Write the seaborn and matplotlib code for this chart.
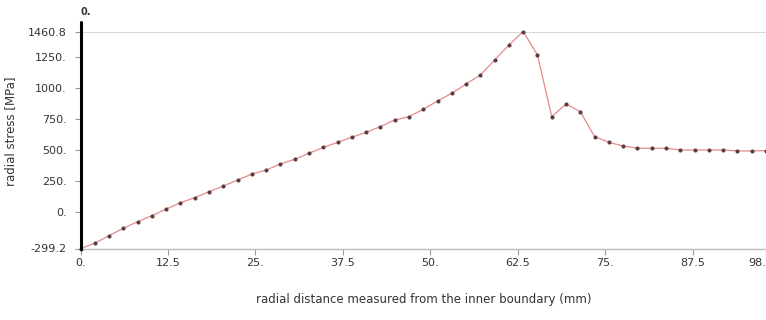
import numpy as np
import pandas as pd
import matplotlib
matplotlib.use("Agg")
import matplotlib.pyplot as plt
import seaborn as sns

# radial positions (mm) and radial stress (MPa)
distance = [0.0, 2.04, 4.08, 6.12, 8.17, 10.21, 12.25, 14.29, 16.33, 18.37,
            20.42, 22.46, 24.5, 26.54, 28.58, 30.62, 32.67, 34.71, 36.75, 38.79,
            40.83, 42.87, 44.92, 46.96, 49.0, 51.04, 53.08, 55.12, 57.17, 59.21,
            61.25, 63.29, 65.33, 67.37, 69.42, 71.46, 73.5, 75.54, 77.58, 79.62,
            81.67, 83.71, 85.75, 87.79, 89.83, 91.87, 93.92, 95.96, 98.0]
stress = [-299.2, -257, -195, -135, -82, -33, 21, 72, 113, 161,
          208, 256, 305, 337, 386, 424, 473, 521, 562, 603,
          643, 689, 743, 770, 830, 897, 960, 1035, 1108, 1230,
          1351, 1460.8, 1270, 770, 873, 810, 608, 562, 532, 514,
          514, 514, 500, 500, 500, 500, 492, 492, 495]

xticks = [0, 12.5, 25, 37.5, 50, 62.5, 75, 87.5, 98]
xticklabels = ["0.", "12.5", "25.", "37.5", "50.", "62.5", "75.", "87.5", "98."]
yticks = [-299.2, 0, 250, 500, 750, 1000, 1250, 1460.8]
yticklabels = ["-299.2", "0.", "250.", "500.", "750.", "1000.", "1250.", "1460.8"]

df = pd.DataFrame({"distance": distance, "stress": stress})

sns.set_style("white")
plt.rcParams["font.family"] = ["DejaVu Sans"]

fig = plt.figure(figsize=(7.66, 3.2), dpi=100)
ax = fig.add_axes([80.5 / 766, 71.5 / 320, 1 - 80.5 / 766, 217 / 320])

sns.lineplot(data=df, x="distance", y="stress", ax=ax, color="#e58a8a",
             linewidth=0.9, marker="o", markersize=2.2,
             markerfacecolor="#5b3b3b", markeredgecolor="#5b3b3b", clip_on=False)

ax.set_xlim(0, 98)
ax.set_ylim(-299.2, 1460.8)
ax.axhline(1460.8, color="#cfcfcf", lw=1.2, zorder=0)

for side in ["top", "right"]:
    ax.spines[side].set_visible(False)
ax.spines["bottom"].set_color("#bdbdbd")
ax.spines["bottom"].set_linewidth(1.0)
ax.spines["left"].set_visible(False)
# thick black vertical axis running a little above the plot
ax.plot([0, 0], [0, 1.045], transform=ax.get_xaxis_transform(), color="black",
        lw=2.2, clip_on=False, zorder=5)
ax.text(0, 1.09, "0.", transform=ax.get_xaxis_transform(), fontsize=7,
        ha="left", va="center", color="#333333", fontweight="bold")

ax.set_xticks(xticks)
ax.set_xticklabels(xticklabels)
ax.set_yticks(yticks)
ax.set_yticklabels(yticklabels)
ax.tick_params(axis="x", direction="out", length=4, width=0.8, color="#9a9a9a",
               labelsize=8, labelcolor="#333333", pad=3, bottom=True)
ax.tick_params(axis="y", direction="out", length=4, width=0.8, color="#9a9a9a",
               labelsize=8, labelcolor="#333333", pad=6, left=True)
ax.get_xticklabels()[-1].set_ha("right")
ax.grid(False)

ax.set_xlabel("radial distance measured from the inner boundary (mm)",
              fontsize=8.5, color="#333333", labelpad=18)
ax.set_ylabel("radial stress [MPa]", fontsize=8.5, color="#333333")
ax.yaxis.set_label_coords(-0.092, 0.54)

fig.savefig("out.png", dpi=100)
